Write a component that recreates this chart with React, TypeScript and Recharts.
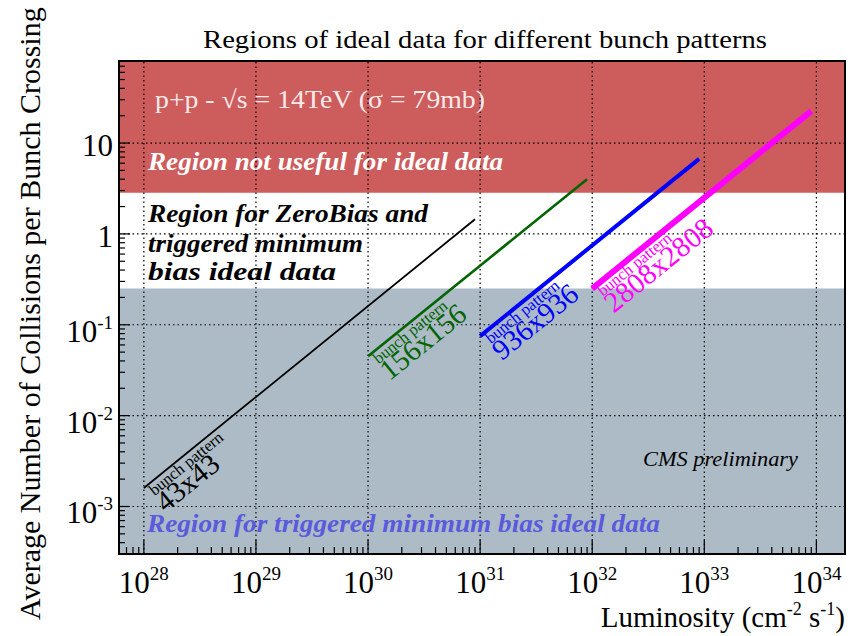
import { LineChart, Line, XAxis, YAxis, ReferenceArea, ReferenceLine, ReferenceDot } from 'recharts';

const FONT = '"Liberation Serif", "Times New Roman", serif';

// start / end of each bunch scheme: luminosity [cm^-2 s^-1] vs mean pile-up
const bunches43 = [
  { lumi: 1e28, mu: 0.0016 },
  { lumi: 9e30, mu: 1.45 },
];
const bunches156 = [
  { lumi: 1e30, mu: 0.045 },
  { lumi: 9e31, mu: 4.0 },
];
const bunches936 = [
  { lumi: 1e31, mu: 0.075 },
  { lumi: 9e32, mu: 6.7 },
];
const bunches2808 = [
  { lumi: 1e32, mu: 0.25 },
  { lumi: 9e33, mu: 22.5 },
];

const patternNames = ['43x43', '156x156', '936x936', '2808x2808'];
const patternColors = ['#000000', '#006400', '#0000ff', '#ff00ff'];
const patternWidths = [1.8, 2.6, 4, 6];

// mu boundaries of the shaded regions
const notUsefulFrom = 2.83;
const minBiasBelow = 0.25;

const lumiDomain = [6e27, 1.8e34];
const muDomain = [3e-4, 80];

const lumiMajor = [1e28, 1e29, 1e30, 1e31, 1e32, 1e33, 1e34];
const lumiExponents = ['28', '29', '30', '31', '32', '33', '34'];
const muMajor = [1e-3, 1e-2, 1e-1, 1, 10];
const muBase = ['10', '10', '10', '1', '10'];
const muExponents = ['-3', '-2', '-1', '', ''];

const minorSteps = [2, 3, 4, 5, 6, 7, 8, 9];
const inside = (v: number, d: number[]) => v >= d[0] * 0.999 && v <= d[1] * 1.001;
const withMinors = (majors: number[], domain: number[]) => {
  const all: number[] = [];
  [majors[0] / 10, ...majors].forEach((m) => {
    all.push(m);
    minorSteps.forEach((s) => all.push(m * s));
  });
  return all.filter((v) => inside(v, domain)).sort((a, b) => a - b);
};
const lumiTicks = withMinors(lumiMajor, lumiDomain);
const muTicks = withMinors(muMajor, muDomain);

const majorIndex = (majors: number[], v: number) =>
  majors.findIndex((m) => Math.abs(m - v) / m < 1e-6);

function BottomTick(props: any) {
  const { x, y, payload } = props;
  const i = majorIndex(lumiMajor, payload.value);
  return (
    <g>
      <line x1={x} x2={x} y1={y} y2={y - (i >= 0 ? 14 : 7)} stroke="#000" strokeWidth={1.2} />
      {i >= 0 && (
        <text x={x} y={y + 39} textAnchor="middle" fontFamily={FONT} fontSize={31} fill="#000">
          10
          <tspan dy={-13} fontSize={19}>
            {lumiExponents[i]}
          </tspan>
        </text>
      )}
    </g>
  );
}

function TopTick(props: any) {
  const { x, y, payload } = props;
  const i = majorIndex(lumiMajor, payload.value);
  return <line x1={x} x2={x} y1={y} y2={y + (i >= 0 ? 15 : 8)} stroke="#000" strokeWidth={1.2} />;
}

function LeftTick(props: any) {
  const { x, y, payload } = props;
  const i = majorIndex(muMajor, payload.value);
  const sup = i >= 0 && muExponents[i] !== '';
  return (
    <g>
      <line x1={x} x2={x + (i >= 0 ? 11 : 6)} y1={y} y2={y} stroke="#000" strokeWidth={1.2} />
      {i >= 0 && (
        <text x={x - 6} y={y + (sup ? 17 : 13)} textAnchor="end" fontFamily={FONT} fontSize={31} fill="#000">
          {muBase[i]}
          {sup && (
            <tspan dy={-13} fontSize={19}>
              {muExponents[i]}
            </tspan>
          )}
        </text>
      )}
    </g>
  );
}

function RightTick(props: any) {
  const { x, y, payload } = props;
  const i = majorIndex(muMajor, payload.value);
  return <line x1={x} x2={x - (i >= 0 ? 8 : 4)} y1={y} y2={y} stroke="#000" strokeWidth={1.2} />;
}

// "bunch pattern / NxN" tag rotated along the line, hung under its first point
function PatternTag(name: string, color: string) {
  return (props: any) => (
    <g transform={`translate(${props.cx},${props.cy}) rotate(-39)`} fontFamily={FONT} fill={color}>
      <text x={3} y={13} fontSize={16.5}>
        bunch pattern
      </text>
      <text x={1} y={33} fontSize={29}>
        {name}
      </text>
    </g>
  );
}

const series = [bunches43, bunches156, bunches936, bunches2808];

export default function App() {
  return (
    <div style={{ position: 'absolute', left: 0, top: 0, width: 852, height: 636, background: '#fff' }}>
      <LineChart width={852} height={636} margin={{ top: 61, right: 7, bottom: 40, left: 59 }}>
        <XAxis
          type="number"
          dataKey="lumi"
          scale="log"
          domain={lumiDomain}
          allowDataOverflow
          ticks={lumiTicks}
          interval={0}
          tick={<BottomTick />}
          tickSize={0}
          tickMargin={0}
          axisLine={false}
          tickLine={false}
          height={42}
        />
        <XAxis
          xAxisId="top"
          orientation="top"
          type="number"
          scale="log"
          domain={lumiDomain}
          allowDataOverflow
          ticks={lumiTicks}
          interval={0}
          tick={<TopTick />}
          tickSize={0}
          tickMargin={0}
          axisLine={false}
          tickLine={false}
          height={0}
        />
        <YAxis
          type="number"
          dataKey="mu"
          scale="log"
          domain={muDomain}
          allowDataOverflow
          ticks={muTicks}
          interval={0}
          tick={<LeftTick />}
          tickSize={0}
          tickMargin={0}
          axisLine={false}
          tickLine={false}
          width={60}
        />
        <YAxis
          yAxisId="right"
          orientation="right"
          type="number"
          scale="log"
          domain={muDomain}
          allowDataOverflow
          ticks={muTicks}
          interval={0}
          tick={<RightTick />}
          tickSize={0}
          tickMargin={0}
          axisLine={false}
          tickLine={false}
          width={0}
        />

        <ReferenceArea y1={notUsefulFrom} y2={muDomain[1]} fill="#cd5c5c" fillOpacity={1} stroke="none" ifOverflow="hidden" />
        <ReferenceArea y1={muDomain[0]} y2={minBiasBelow} fill="#acbbc6" fillOpacity={1} stroke="none" ifOverflow="hidden" />

        {lumiMajor.map((v) => (
          <ReferenceLine key={`gx${v}`} x={v} stroke="#000" strokeWidth={1.2} strokeDasharray="1.5 3" />
        ))}
        {muMajor.map((v) => (
          <ReferenceLine key={`gy${v}`} y={v} stroke="#000" strokeWidth={1.2} strokeDasharray="1.5 3" />
        ))}

        {series.map((data, i) => (
          <Line
            key={patternNames[i]}
            data={data}
            dataKey="mu"
            type="linear"
            stroke={patternColors[i]}
            strokeWidth={patternWidths[i]}
            dot={false}
            isAnimationActive={false}
          />
        ))}
        {series.map((data, i) => (
          <ReferenceDot
            key={`tag${i}`}
            x={data[0].lumi}
            y={data[0].mu}
            r={1}
            shape={PatternTag(patternNames[i], patternColors[i])}
          />
        ))}

        <ReferenceArea
          x1={lumiDomain[0]}
          x2={lumiDomain[1]}
          y1={muDomain[0]}
          y2={muDomain[1]}
          fill="none"
          fillOpacity={0}
          stroke="#000"
          strokeWidth={2}
        />
      </LineChart>

      <svg width={852} height={636} style={{ position: 'absolute', left: 0, top: 0, pointerEvents: 'none' }} fontFamily={FONT}>
        <text x={203} y={48} fontSize={26} textLength={564} lengthAdjust="spacingAndGlyphs" fill="#000">
          Regions of ideal data for different bunch patterns
        </text>
        <text transform="translate(40,620) rotate(-90)" fontSize={30} fill="#000">
          Average Number of Collisions per Bunch Crossing
        </text>
        <text x={845} y={627} textAnchor="end" fontSize={29} fill="#000">
          Luminosity (cm
          <tspan dy={-12} fontSize={18}>-2</tspan>
          <tspan dy={12}> s</tspan>
          <tspan dy={-12} fontSize={18}>-1</tspan>
          <tspan dy={12}>)</tspan>
        </text>

        <text x={155} y={108} fontSize={25} textLength={330} lengthAdjust="spacingAndGlyphs" fill="#fbeaea">
          p+p - √s = 14TeV (σ = 79mb)
        </text>
        <text x={148} y={170} fontSize={25} fontWeight="bold" fontStyle="italic" textLength={355} lengthAdjust="spacingAndGlyphs" fill="#ffffff">
          Region not useful for ideal data
        </text>
        <g fontSize={25} fontWeight="bold" fontStyle="italic" fill="#000">
          <text x={148} y={222} textLength={280} lengthAdjust="spacingAndGlyphs">
            Region for ZeroBias and
          </text>
          <text x={148} y={252} textLength={215} lengthAdjust="spacingAndGlyphs">
            triggered minimum
          </text>
          <text x={148} y={280} textLength={188} lengthAdjust="spacingAndGlyphs">
            bias ideal data
          </text>
        </g>
        <text x={147} y={532} fontSize={25} fontWeight="bold" fontStyle="italic" textLength={513} lengthAdjust="spacingAndGlyphs" fill="#5a5adc">
          Region for triggered minimum bias ideal data
        </text>
        <text x={643} y={466} fontSize={21} fontStyle="italic" textLength={155} lengthAdjust="spacingAndGlyphs" fill="#000">
          CMS preliminary
        </text>
      </svg>
    </div>
  );
}
